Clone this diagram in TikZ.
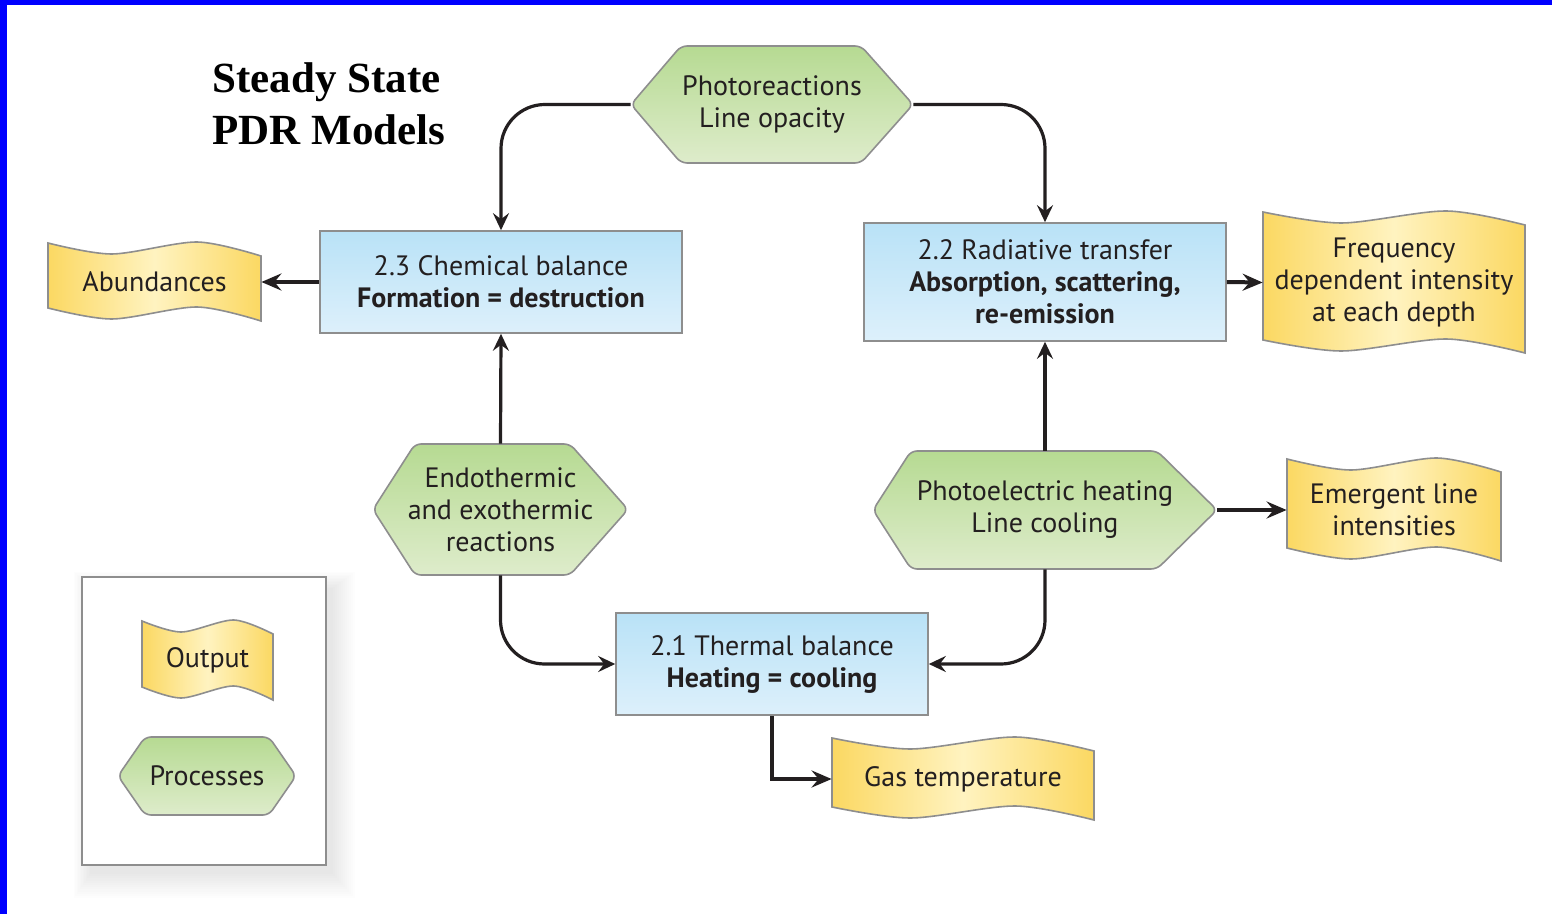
\documentclass[tikz,border=0pt]{standalone}
\usepackage{fontspec}
\setmainfont{PT Sans}
\newfontfamily\titlefont{Liberation Serif}
\usetikzlibrary{arrows.meta,calc}
\definecolor{txt}{HTML}{231F20}
\definecolor{bordergray}{HTML}{8E8E8E}
\definecolor{blueT}{HTML}{B9E2F7}
\definecolor{blueB}{HTML}{DDF0FB}
\definecolor{greenT}{HTML}{B6DA92}
\definecolor{greenB}{HTML}{DEECCB}
\definecolor{ylwE}{HTML}{FBD862}
\definecolor{ylwC}{HTML}{FFF3C0}
\definecolor{frameblue}{HTML}{0000FF}

\tikzset{
  lbl/.style={inner sep=0pt, align=center, text=txt, font=\fontsize{14}{16}\selectfont},
  boxstyle/.style={lbl, draw=bordergray, line width=0.8pt, top color=blueT, bottom color=blueB},
  hexstyle/.style={draw=bordergray, line width=0.8pt, top color=greenT, bottom color=greenB, rounded corners=3pt},
  wavestyle/.style={draw=bordergray, line width=0.8pt, left color=ylwE, right color=ylwE, middle color=ylwC},
  conn/.style={draw=txt, line width=1.6pt, -{Stealth[length=8.5pt,width=8pt,inset=3pt]}},
  connT/.style={draw=txt, line width=2pt, -{Stealth[length=10pt,width=8.5pt,inset=3.5pt]}},
  titlestyle/.style={inner sep=0pt, anchor=base west, font=\titlefont\bfseries\fontsize{21.5}{26}\selectfont},
}

% wave-shaped output node: name, left, top, right, bottom, text
\newcommand\wavenode[6]{%
  \pgfmathsetmacro\wvL{#2}\pgfmathsetmacro\wvT{#3}\pgfmathsetmacro\wvR{#4}\pgfmathsetmacro\wvB{#5}%
  \pgfmathsetmacro\wvW{\wvR-\wvL}\pgfmathsetmacro\wvA{11}\pgfmathsetmacro\wvD{13}%
  \pgfmathsetmacro\wvH{\wvB-\wvT-\wvD}%
  \draw[wavestyle] plot[smooth] coordinates {(\wvL,\wvT) (\wvL+0.3*\wvW,\wvT+\wvA) (\wvL+0.7*\wvW,\wvT-1) (\wvR,\wvT+\wvD)}
     -- plot[smooth] coordinates {(\wvR,\wvB) (\wvL+0.7*\wvW,\wvT-1+\wvH) (\wvL+0.3*\wvW,\wvT+\wvA+\wvH) (\wvL,\wvT+\wvH)} -- cycle;
  \pgfmathsetmacro\wvNW{\wvW*0.5}\pgfmathsetmacro\wvNH{(\wvB-\wvT)*0.5}%
  \node[lbl, minimum width=\wvNW pt, minimum height=\wvNH pt] (#1) at ({(\wvL+\wvR)/2},{(\wvT+\wvB)/2}) {#6};
}

% hexagon process node: name, left, top, right, bottom, left slant, right slant, text
\newcommand\hexnode[8]{%
  \pgfmathsetmacro\hxM{(#3+#5)/2}%
  \draw[hexstyle] (#2,\hxM) -- (#2+#6,#3) -- (#4-#7,#3) -- (#4,\hxM) -- (#4-#7,#5) -- (#2+#6,#5) -- cycle;
  \pgfmathsetmacro\hxW{(#4-#2)*0.5}\pgfmathsetmacro\hxH{(#5-#3)*0.5}%
  \node[lbl, minimum width=\hxW pt, minimum height=\hxH pt] (#1) at ({(#2+#4)/2},\hxM) {#8};
}

\begin{document}
\begin{tikzpicture}[x=0.5pt,y=-0.5pt]
\useasboundingbox (0,0) rectangle (1552,914);
\fill[white] (0,0) rectangle (1552,914);
\fill[frameblue] (0,0) rectangle (7,914);
\fill[frameblue] (0,0) rectangle (1552,5);

% title
\node[titlestyle] (title1) at (212,93) {Steady State};
\node[titlestyle] (title2) at (212,145) {PDR Models};

% boxes
\node[boxstyle, minimum width=181pt, minimum height=51pt] (chem) at (501,282)
  {2.3 Chemical balance\\\textbf{Formation = destruction}};
\node[boxstyle, minimum width=181pt, minimum height=59pt] (rad) at (1045,282)
  {2.2 Radiative transfer\\\textbf{Absorption, scattering,}\\\textbf{re-emission}};
\node[boxstyle, minimum width=156pt, minimum height=51pt] (therm) at (772,664)
  {2.1 Thermal balance\\\textbf{Heating = cooling}};

% processes
\hexnode{photo}{631}{46}{913}{163}{50}{52}{Photoreactions\\Line opacity}
\hexnode{endo}{373}{444}{628}{575}{42}{58}{Endothermic\\and exothermic\\reactions}
\hexnode{pe}{873}{451}{1217}{569}{38}{60}{Photoelectric heating\\Line cooling}

% outputs
\wavenode{ab}{48}{243}{261}{321}{Abundances}
\wavenode{freq}{1263}{212}{1525}{353}{Frequency\\dependent intensity\\at each depth}
\wavenode{em}{1287}{459}{1501}{561}{Emergent line\\intensities}
\wavenode{gas}{832}{738}{1094}{820}{Gas temperature}

% connectors
\draw[conn, rounded corners=22pt] (photo.west) -| (chem.north);
\draw[conn, rounded corners=22pt] (photo.east) -| (rad.north);
\draw[conn] (endo.north) -- (chem.south);
\draw[conn, rounded corners=22pt] (endo.south) |- (therm.west);
\draw[conn] (pe.north) -- (rad.south);
\draw[conn, rounded corners=22pt] (pe.south) |- (therm.east);
\draw[connT] (chem.west) -- (ab.east);
\draw[connT] (rad.east) -- (freq.west);
\draw[connT] (pe.east) -- (em.west);
\draw[connT] (therm.south) |- (gas.west);

% legend (soft shadow, then box)
\foreach \i in {0,...,11}
  \fill[black, opacity=0.008] ({90-\i*1.5},{588-\i*1.5}) rectangle ({333+\i*2},{874+\i*2.2});
\node[draw=bordergray, line width=1pt, fill=white, inner sep=0pt, minimum width=122pt, minimum height=144pt] (legend) at (204,721) {};
\wavenode{outkey}{142}{621}{273}{700}{Output}
\hexnode{prockey}{118}{737}{296}{815}{27}{27}{Processes}
\end{tikzpicture}
\end{document}
